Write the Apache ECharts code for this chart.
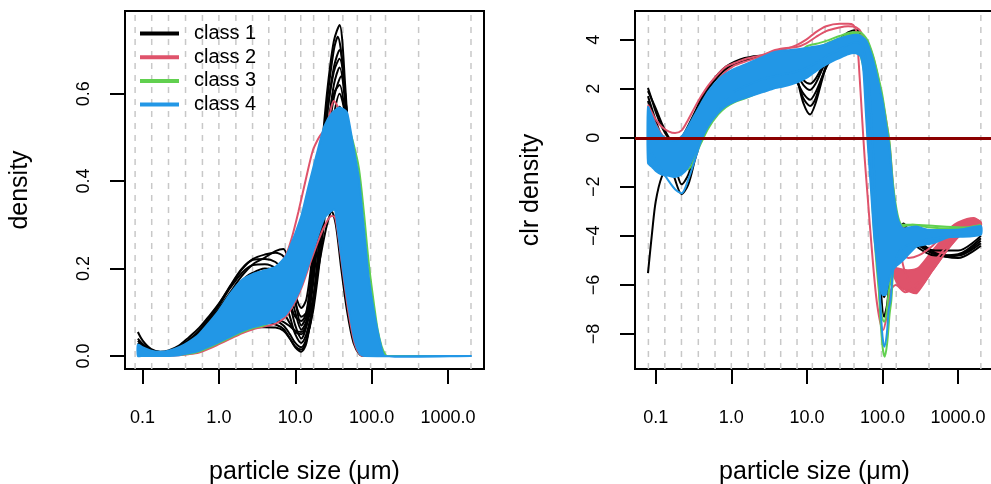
<!DOCTYPE html>
<html>
<head>
<meta charset="utf-8">
<script src="https://cdn.jsdelivr.net/npm/echarts@6/dist/echarts.min.js"></script>
<style>
  html, body { margin: 0; padding: 0; background: #fff; }
  #chart { width: 991px; height: 484px; }
</style>
</head>
<body>
<div id="chart"></div>
<script>
// ---- data (particle size in µm) ----
const classNames = ['class 1', 'class 2', 'class 3', 'class 4']
const classColors = ['#000000', '#DF536B', '#61D04F', '#2297E6']

const xTicks = [0.1, 1, 10, 100, 1000]
const xTickLabels = ['0.1', '1.0', '10.0', '100.0', '1000.0']
const yTicksL = [0, 0.2, 0.4, 0.6]
const yTickLabelsL = ['0.0', '0.2', '0.4', '0.6']
const yTicksR = [-8, -6, -4, -2, 0, 2, 4]
const yTickLabelsR = ['\u22128', '\u22126', '\u22124', '\u22122', '0', '2', '4']

// dashed vertical reference lines
const dashSizes = [0.08, 0.132, 0.219, 0.366, 0.609, 1.0, 1.67, 2.76, 4.5, 7.4, 11.8, 17.4, 27.4, 42, 65, 97, 152, 412, 2000]

// left panel: density
const lBlueUpper = [[0.087,0.026],[0.1,0.02],[0.13,0.012],[0.17,0.01],[0.22,0.012],[0.3,0.02],[0.4,0.032],[0.55,0.05],[0.75,0.077],[1.0,0.104],[1.4,0.142],[2.0,0.174],[2.8,0.188],[4.0,0.196],[5.5,0.204],[7.5,0.228],[9,0.26],[10,0.28],[12,0.32],[15,0.39],[19,0.46],[24,0.525],[30,0.555],[37,0.568],[42,0.565],[48,0.555],[57,0.484],[68,0.408],[79,0.294],[92,0.179],[107,0.103],[131,0.027],[150,0],[2000,0]]
const lBlueLower = [[0.087,0],[0.1,0],[0.13,0],[0.17,0],[0.22,0],[0.3,0.002],[0.4,0.006],[0.55,0.012],[0.75,0.022],[1.0,0.032],[1.4,0.044],[2.0,0.057],[2.8,0.066],[4.0,0.073],[5.5,0.079],[7.5,0.095],[10,0.13],[12,0.16],[15,0.21],[19,0.265],[24,0.315],[30,0.332],[33,0.335],[36,0.29],[42,0.2],[50,0.11],[60,0.035],[70,0.005],[80,0],[2000,0]]

const kL1 = [[0.087,0.055],[0.1,0.036],[0.13,0.016],[0.17,0.01],[0.22,0.013],[0.3,0.024],[0.4,0.042],[0.55,0.064],[0.75,0.092],[1.0,0.12],[1.4,0.158],[2.0,0.198],[2.8,0.222],[4.0,0.232],[5.5,0.236],[7.0,0.228],[8.5,0.19],[10,0.14],[12,0.11],[14,0.13],[17,0.24],[21,0.42],[26,0.6],[32,0.72],[38,0.757],[45,0.62],[55,0.36],[65,0.15],[80,0.03],[100,0],[2000,0]]
const kL2 = [[0.087,0.04],[0.1,0.028],[0.13,0.014],[0.17,0.009],[0.22,0.011],[0.3,0.02],[0.4,0.036],[0.55,0.055],[0.75,0.082],[1.0,0.108],[1.4,0.145],[2.0,0.183],[2.8,0.21],[4.0,0.225],[5.5,0.24],[7.0,0.245],[8.5,0.2],[10,0.13],[12,0.07],[14,0.09],[17,0.2],[21,0.38],[26,0.55],[32,0.66],[38,0.7],[45,0.6],[55,0.38],[65,0.16],[80,0.03],[100,0],[2000,0]]
const kL3 = [[0.087,0.03],[0.1,0.022],[0.13,0.012],[0.17,0.008],[0.22,0.01],[0.3,0.019],[0.4,0.034],[0.55,0.055],[0.75,0.085],[1.0,0.115],[1.4,0.155],[2.0,0.19],[2.8,0.208],[4.0,0.21],[5.5,0.2],[7.0,0.17],[8.5,0.12],[10,0.07],[12,0.04],[14,0.07],[17,0.17],[21,0.33],[26,0.5],[32,0.62],[38,0.66],[45,0.58],[55,0.37],[65,0.15],[80,0.03],[100,0],[2000,0]]
const kL4 = [[0.087,0.02],[0.1,0.015],[0.13,0.008],[0.17,0.004],[0.22,0.003],[0.3,0.006],[0.4,0.012],[0.55,0.02],[0.75,0.032],[1.0,0.045],[1.4,0.055],[2.0,0.063],[2.8,0.066],[4.0,0.066],[5.5,0.065],[7.0,0.058],[8.5,0.04],[10,0.02],[12,0.01],[14,0.03],[17,0.12],[21,0.28],[26,0.44],[32,0.55],[38,0.6],[45,0.55],[55,0.38],[65,0.17],[80,0.03],[100,0],[2000,0]]
const kL5 = [[0.087,0.015],[0.1,0.012],[0.13,0.006],[0.17,0.003],[0.22,0.004],[0.3,0.008],[0.4,0.016],[0.55,0.028],[0.75,0.042],[1.0,0.056],[1.4,0.07],[2.0,0.08],[2.8,0.084],[4.0,0.084],[5.5,0.08],[7.0,0.07],[8.5,0.05],[10,0.03],[12,0.02],[14,0.04],[17,0.1],[21,0.22],[26,0.36],[32,0.46],[38,0.51],[45,0.5],[55,0.38],[65,0.18],[80,0.04],[100,0],[2000,0]]
const kL6 = [[0.087,0.012],[0.1,0.009],[0.13,0.005],[0.17,0.003],[0.22,0.004],[0.3,0.009],[0.4,0.018],[0.55,0.03],[0.75,0.046],[1.0,0.06],[1.4,0.074],[2.0,0.085],[2.8,0.09],[4.0,0.09],[5.5,0.085],[7.0,0.078],[8.5,0.068],[10,0.058],[12,0.055],[14,0.07],[17,0.13],[21,0.22],[26,0.3],[30,0.33],[34,0.3],[40,0.2],[48,0.1],[58,0.03],[70,0.003],[80,0],[2000,0]]
const kL7 = [[0.087,0.025],[0.1,0.02],[0.13,0.011],[0.17,0.007],[0.22,0.009],[0.3,0.017],[0.4,0.03],[0.55,0.05],[0.75,0.075],[1.0,0.1],[1.4,0.135],[2.0,0.17],[2.8,0.19],[4.0,0.2],[5.5,0.195],[7.0,0.18],[8.5,0.15],[10,0.12],[12,0.09],[14,0.1],[17,0.18],[21,0.34],[26,0.5],[32,0.6],[38,0.62],[45,0.55],[55,0.36],[65,0.15],[80,0.03],[100,0],[2000,0]]
const kL8 = [[0.087,0.018],[0.1,0.014],[0.13,0.008],[0.17,0.005],[0.22,0.006],[0.3,0.012],[0.4,0.024],[0.55,0.04],[0.75,0.06],[1.0,0.08],[1.4,0.105],[2.0,0.13],[2.8,0.15],[4.0,0.16],[5.5,0.155],[7.0,0.13],[8.5,0.09],[10,0.05],[12,0.03],[14,0.05],[17,0.12],[21,0.25],[26,0.37],[32,0.43],[38,0.45],[45,0.42],[55,0.3],[65,0.14],[80,0.03],[100,0],[2000,0]]
const kL9 = [[0.087,0.035],[0.1,0.025],[0.13,0.013],[0.17,0.008],[0.22,0.01],[0.3,0.02],[0.4,0.036],[0.55,0.058],[0.75,0.088],[1.0,0.118],[1.4,0.16],[2.0,0.2],[2.8,0.22],[4.0,0.222],[5.5,0.215],[7.0,0.195],[8.5,0.15],[10,0.1],[12,0.06],[14,0.08],[17,0.19],[21,0.37],[26,0.55],[32,0.65],[38,0.68],[45,0.6],[55,0.37],[65,0.16],[80,0.03],[100,0],[2000,0]]
const kL10 = [[0.087,0.01],[0.1,0.008],[0.13,0.005],[0.17,0.003],[0.22,0.004],[0.3,0.009],[0.4,0.018],[0.55,0.03],[0.75,0.045],[1.0,0.058],[1.4,0.07],[2.0,0.078],[2.8,0.08],[4.0,0.078],[5.5,0.072],[7.0,0.062],[8.5,0.04],[10,0.022],[12,0.015],[14,0.035],[17,0.11],[21,0.25],[26,0.42],[32,0.53],[38,0.57],[45,0.52],[55,0.37],[65,0.17],[80,0.035],[100,0],[2000,0]]
const kL11 = [[0.087,0.028],[0.1,0.02],[0.13,0.011],[0.17,0.007],[0.22,0.009],[0.3,0.018],[0.4,0.032],[0.55,0.052],[0.75,0.08],[1.0,0.105],[1.4,0.14],[2.0,0.172],[2.8,0.19],[4.0,0.19],[5.5,0.18],[7.0,0.16],[8.5,0.12],[10,0.09],[12,0.08],[14,0.1],[17,0.22],[21,0.41],[26,0.58],[32,0.7],[36,0.73],[42,0.66],[52,0.42],[62,0.2],[78,0.04],[100,0],[2000,0]]
const kL12 = [[0.087,0.016],[0.1,0.012],[0.13,0.007],[0.17,0.004],[0.22,0.005],[0.3,0.01],[0.4,0.02],[0.55,0.034],[0.75,0.052],[1.0,0.07],[1.4,0.09],[2.0,0.11],[2.8,0.125],[4.0,0.13],[5.5,0.12],[7.0,0.1],[8.5,0.075],[10,0.055],[12,0.05],[14,0.07],[17,0.16],[21,0.32],[26,0.48],[32,0.59],[40,0.64],[47,0.56],[57,0.36],[67,0.16],[82,0.03],[100,0],[2000,0]]

const rL1 = [[0.087,0.015],[0.1,0.011],[0.13,0.006],[0.17,0.005],[0.22,0.007],[0.3,0.014],[0.4,0.026],[0.55,0.044],[0.75,0.068],[1.0,0.093],[1.4,0.128],[2.0,0.16],[2.8,0.18],[4.0,0.19],[5.5,0.2],[7.5,0.23],[9,0.27],[11,0.33],[14,0.41],[17,0.47],[20,0.497],[22,0.508],[25,0.52],[28,0.55],[32,0.583],[36,0.57],[42,0.52],[50,0.42],[60,0.28],[70,0.16],[85,0.06],[100,0.02],[120,0.004],[140,0],[2000,0]]
const rL2 = [[0.087,0.012],[0.1,0.008],[0.13,0.003],[0.17,0.001],[0.22,0.001],[0.3,0.002],[0.4,0.004],[0.55,0.008],[0.75,0.017],[1.0,0.027],[1.4,0.039],[2.0,0.052],[2.8,0.061],[4.0,0.068],[5.5,0.074],[7.5,0.09],[10,0.125],[12,0.155],[15,0.203],[19,0.253],[24,0.296],[30,0.32],[33,0.318],[36,0.283],[42,0.193],[50,0.098],[60,0.028],[70,0.004],[80,0],[2000,0]]
const rL3 = [[0.087,0.01],[0.1,0.007],[0.13,0.004],[0.17,0.003],[0.22,0.004],[0.3,0.01],[0.4,0.02],[0.55,0.035],[0.75,0.055],[1.0,0.075],[1.4,0.1],[2.0,0.125],[2.8,0.14],[4.0,0.148],[5.5,0.155],[7.5,0.175],[10,0.21],[14,0.28],[20,0.37],[28,0.45],[36,0.49],[45,0.5],[57,0.46],[68,0.39],[79,0.28],[92,0.17],[107,0.095],[120,0.045],[135,0.012],[150,0],[2000,0]]

const gL1 = [[0.087,0.012],[0.1,0.009],[0.13,0.005],[0.17,0.004],[0.22,0.005],[0.3,0.011],[0.4,0.022],[0.55,0.038],[0.75,0.06],[1.0,0.083],[1.4,0.112],[2.0,0.14],[2.8,0.155],[4.0,0.165],[5.5,0.175],[7.5,0.2],[10,0.25],[14,0.34],[20,0.44],[26,0.51],[33,0.54],[42,0.535],[50,0.52],[57,0.49],[68,0.43],[79,0.33],[92,0.21],[107,0.12],[120,0.06],[135,0.022],[150,0.004],[160,0],[2000,0]]
const gL2 = [[0.087,0.01],[0.1,0.007],[0.13,0.003],[0.17,0.002],[0.22,0.002],[0.3,0.003],[0.4,0.005],[0.55,0.01],[0.75,0.02],[1.0,0.03],[1.4,0.042],[2.0,0.055],[2.8,0.064],[4.0,0.071],[5.5,0.085],[7.5,0.11],[10,0.15],[14,0.22],[20,0.3],[26,0.36],[30,0.38],[34,0.37],[40,0.32],[50,0.22],[60,0.13],[70,0.06],[85,0.015],[100,0],[2000,0]]
const gL3 = [[0.087,0.015],[0.1,0.011],[0.13,0.006],[0.17,0.004],[0.22,0.005],[0.3,0.01],[0.4,0.02],[0.55,0.033],[0.75,0.05],[1.0,0.07],[1.4,0.1],[2.0,0.13],[2.8,0.15],[4.0,0.16],[5.5,0.17],[7.5,0.19],[10,0.23],[14,0.3],[20,0.39],[26,0.45],[33,0.47],[40,0.45],[50,0.38],[60,0.28],[70,0.19],[85,0.09],[100,0.04],[120,0.01],[140,0],[2000,0]]

// right panel: clr density
const rBlueUpper = [[0.079,1.25],[0.09,0.85],[0.1,0.5],[0.12,0.1],[0.15,-0.08],[0.18,-0.12],[0.22,0.05],[0.27,0.46],[0.33,0.95],[0.4,1.41],[0.5,1.9],[0.67,2.37],[0.85,2.62],[1.11,2.82],[1.5,2.98],[2.38,3.25],[3.56,3.48],[5,3.56],[7,3.6],[9.8,3.66],[13,3.72],[18,3.82],[27,4.05],[35,4.15],[45,4.2],[52,4.15],[61,3.95],[68,3.6],[75,3.18],[82,2.7],[91,2.09],[100,1.5],[112,0.5],[124,-0.4],[137,-2.0],[150,-2.9],[165,-3.45],[186,-3.7],[220,-3.66],[282,-3.62],[400,-3.75],[776,-3.76],[1200,-3.72],[2000,-3.6]]
const rBlueLower = [[0.079,-1.03],[0.09,-1.2],[0.1,-1.35],[0.12,-1.5],[0.15,-1.55],[0.18,-1.6],[0.22,-1.5],[0.27,-1.2],[0.33,-0.65],[0.4,-0.08],[0.5,0.5],[0.67,1.02],[0.85,1.3],[1.11,1.48],[1.5,1.62],[2.38,1.82],[3.56,2.0],[5,2.1],[7.3,2.25],[10,2.45],[13,2.7],[16.3,2.91],[21,3.1],[27,3.25],[35,3.4],[42,3.46],[48,3.4],[52,3.3],[56,2.7],[60,1.1],[63,0],[70,-2.0],[77,-3.9],[84,-5.0],[90,-5.9],[100,-6.4],[110,-6.4],[120,-5.9],[135,-5.4],[150,-5.25],[169,-5.12],[200,-4.9],[282,-4.44],[460,-4.3],[776,-4.05],[1400,-4.03],[2000,-3.95]]
const rRedTailUpper = [[140,-5.3],[170,-5.35],[220,-5.4],[300,-5.3],[460,-4.6],[776,-3.8],[1000,-3.5],[1600,-3.3],[2000,-3.45]]
const rRedTailLower = [[140,-5.6],[170,-6.1],[220,-6.25],[282,-6.34],[460,-5.4],[776,-4.44],[1200,-3.8],[1600,-3.55],[2000,-3.6]]

const kR1 = [[0.079,2.03],[0.09,1.5],[0.1,1.05],[0.12,0.45],[0.15,-0.05],[0.18,-0.3],[0.22,-0.1],[0.27,0.4],[0.33,0.95],[0.4,1.5],[0.5,2.0],[0.67,2.5],[0.85,2.8],[1.11,3.0],[1.5,3.15],[2.38,3.3],[3.56,3.35],[5,3.3],[7.3,2.4],[9,1.4],[11,0.95],[13,1.4],[16,2.4],[19,3.1],[27,3.9],[35,4.2],[45,4.3],[52,4.1],[58,3.5],[65,2.0],[75,-1.0],[90,-5.0],[105,-7.3],[115,-6.8],[130,-5.2],[150,-4.2],[190,-3.5],[250,-4.1],[400,-4.6],[700,-4.85],[1200,-4.7],[2000,-4.2]]
const kR2 = [[0.079,1.7],[0.1,0.7],[0.13,-0.3],[0.18,-1.7],[0.22,-2.3],[0.27,-1.9],[0.33,-0.9],[0.4,0],[0.5,0.9],[0.67,1.7],[0.85,2.2],[1.11,2.5],[1.5,2.7],[2.38,2.9],[3.56,3.05],[5,3.0],[7.3,2.3],[9,1.8],[11,1.55],[13,1.85],[16,2.5],[19,3.0],[27,3.6],[35,3.9],[45,4.0],[55,3.8],[63,2.8],[72,0],[85,-3.5],[100,-5.8],[115,-5.5],[140,-4.2],[190,-3.7],[250,-4.3],[500,-4.8],[1000,-4.75],[2000,-4.1]]
const kR3 = [[0.079,-5.52],[0.09,-3.8],[0.1,-2.6],[0.12,-1.6],[0.15,-1.2],[0.18,-1.4],[0.22,-1.2],[0.27,-0.6],[0.33,0],[0.4,0.7],[0.5,1.3],[0.67,1.9],[0.85,2.3],[1.11,2.6],[1.5,2.8],[2.38,3.0],[3.56,3.2],[5,3.2],[7.3,2.6],[9,2.15],[11,1.95],[13,2.2],[16,2.8],[19,3.3],[27,3.8],[35,4.05],[45,4.1],[55,3.9],[63,3.0],[72,0.5],[85,-3.0],[100,-5.5],[115,-5.2],[140,-4.0],[190,-3.8],[250,-4.2],[500,-4.6],[1000,-4.6],[2000,-4.0]]
const kR4 = [[0.079,1.9],[0.1,1.2],[0.12,0.6],[0.15,0],[0.18,-0.2],[0.22,0],[0.27,0.5],[0.33,1.05],[0.4,1.6],[0.5,2.1],[0.67,2.6],[0.85,2.9],[1.11,3.1],[1.5,3.25],[2.38,3.35],[3.56,3.35],[5,3.3],[7.3,2.8],[9,2.35],[11,2.2],[13,2.4],[16,2.9],[19,3.3],[27,4.0],[35,4.3],[45,4.4],[52,4.2],[58,3.8],[66,2.5],[75,-0.5],[90,-4.5],[105,-6.5],[120,-6.0],[140,-4.5],[180,-3.7],[250,-4.2],[500,-4.75],[1000,-4.8],[2000,-4.3]]
const kR5 = [[0.079,1.5],[0.1,0.5],[0.13,-0.4],[0.18,-1.2],[0.22,-1.9],[0.27,-1.5],[0.33,-0.6],[0.4,0.3],[0.5,1.1],[0.67,1.8],[0.85,2.3],[1.11,2.6],[1.5,2.8],[2.38,3.0],[3.56,3.1],[5,3.05],[7.3,2.4],[9,1.6],[11,1.3],[13,1.6],[16,2.5],[19,3.1],[27,3.8],[35,4.1],[45,4.2],[55,4.0],[63,3.2],[72,0.5],[85,-3.5],[100,-6.0],[115,-5.8],[140,-4.3],[190,-3.6],[250,-4.0],[500,-4.7],[1000,-4.9],[2000,-4.4]]

const rR1 = [[0.079,1.35],[0.09,1.0],[0.1,0.75],[0.12,0.45],[0.15,0.25],[0.18,0.19],[0.22,0.3],[0.27,0.75],[0.33,1.25],[0.4,1.7],[0.5,2.15],[0.67,2.6],[0.85,2.9],[1.11,3.05],[1.5,3.2],[2.38,3.35],[3.56,3.5],[5,3.6],[7.3,3.78],[9.8,4.0],[13,4.3],[18,4.55],[27,4.65],[35,4.65],[41,4.6],[45,4.35],[50,2.4],[54,0.7],[58,-0.8],[64,-2.5],[72,-4.5],[85,-6.8],[102,-7.84],[115,-7.2],[130,-6.2],[150,-6.0],[200,-6.3],[300,-5.9],[500,-5.0],[800,-4.2],[1200,-3.5],[1600,-3.3],[2000,-3.5]]
const rR2 = [[0.079,1.3],[0.1,0.55],[0.13,0],[0.18,-0.3],[0.22,-0.15],[0.27,0.3],[0.33,0.85],[0.4,1.35],[0.5,1.85],[0.67,2.35],[0.85,2.7],[1.11,2.95],[1.5,3.1],[2.38,3.3],[3.56,3.55],[5,3.65],[7.3,3.7],[9.8,3.85],[13,4.1],[18,4.35],[27,4.5],[35,4.55],[45,4.5],[52,4.3],[60,3.8],[68,3.0],[80,1.0],[92,-2.0],[102,-4.5],[112,-5.6],[125,-6.0],[150,-4.6],[220,-4.9],[300,-4.8],[460,-4.4],[776,-3.7],[1000,-3.45],[1600,-3.27],[2000,-3.45]]
const rR3 = [[0.079,0.5],[0.13,-0.6],[0.18,-0.8],[0.27,-0.2],[0.4,0.8],[0.67,1.8],[1.11,2.4],[2.38,2.9],[5,3.2],[10,3.4],[20,3.8],[30,4.0],[45,4.1],[60,4.0],[75,3.3],[91,2.2],[112,0.7],[124,-0.3],[137,-1.9],[150,-3.2],[170,-4.5],[200,-5.5],[282,-6.2],[460,-5.4],[776,-4.44],[1200,-3.8],[1600,-3.55],[2000,-3.6]]

const gR1 = [[0.079,0.8],[0.1,0],[0.13,-0.5],[0.18,-0.65],[0.22,-0.45],[0.27,-0.1],[0.33,0.3],[0.4,0.8],[0.5,1.3],[0.67,1.8],[0.85,2.2],[1.11,2.5],[1.5,2.7],[2.38,2.95],[3.56,3.1],[5,3.2],[7.3,3.3],[10,3.45],[14,3.65],[20,3.9],[27,4.05],[35,4.2],[45,4.25],[55,4.1],[65,3.4],[75,1.5],[85,-3.5],[91,-6.6],[100,-8.5],[107,-8.93],[115,-8.4],[124,-7.2],[131,-6.6],[140,-5.0],[150,-3.9],[170,-3.55],[250,-3.55],[500,-3.6],[1000,-3.65],[2000,-3.7]]
const gR2 = [[0.079,0.3],[0.1,-0.3],[0.13,-0.8],[0.18,-1.0],[0.22,-0.85],[0.27,-0.5],[0.33,-0.05],[0.4,0.5],[0.5,1.1],[0.67,1.65],[0.85,2.0],[1.11,2.3],[1.5,2.5],[2.38,2.75],[3.56,2.95],[5,3.1],[7.3,3.3],[9.8,3.72],[14,3.85],[18,3.95],[27,4.15],[40,4.3],[50,4.3],[61,4.05],[68,3.75],[75,3.35],[82,2.9],[91,2.3],[100,1.7],[112,0.7],[124,-0.2],[137,-1.8],[150,-2.75],[165,-3.35],[186,-3.6],[250,-3.55],[400,-3.65],[800,-3.7],[1400,-3.65],[2000,-3.55]]
const gR3 = [[0.079,-0.4],[0.1,-0.8],[0.13,-1.1],[0.18,-1.2],[0.22,-1.25],[0.27,-1.28],[0.33,-0.78],[0.4,-0.2],[0.5,0.4],[0.67,0.95],[0.85,1.25],[1.11,1.45],[1.5,1.6],[2.38,1.85],[3.56,2.05],[5,2.2],[7.3,2.35],[10,2.55],[16,3.0],[27,3.35],[40,3.5],[50,3.4],[58,2.5],[66,0],[76,-3.5],[88,-6.0],[98,-7.3],[105,-7.5],[112,-7.2],[122,-6.2],[135,-5.3],[150,-4.9],[200,-4.5],[400,-4.2],[1000,-4.0],[2000,-3.8]]

const bR1 = [[0.079,-0.4],[0.1,-0.9],[0.13,-1.5],[0.18,-2.1],[0.22,-2.26],[0.27,-1.7],[0.33,-0.9],[0.4,-0.1],[0.5,0.6],[0.67,1.2],[0.85,1.6],[1.11,1.9],[1.5,2.1],[2.38,2.35],[3.56,2.5],[5,2.6],[7.3,2.7],[10,2.85],[14,3.1],[20,3.4],[27,3.6],[35,3.8],[45,3.9],[55,3.7],[65,2.5],[75,-0.5],[85,-4.0],[93,-6.6],[100,-8.1],[106,-8.52],[114,-8.0],[121,-7.0],[128,-6.6],[140,-5.3],[170,-4.6],[250,-4.3],[500,-4.1],[1000,-4.0],[2000,-3.9]]

// ---- chart ----
const FONT = '"Liberation Sans", Arial, Helvetica, sans-serif'
const [BLACK, RED, GREEN, BLUE] = classColors

// z: 2 = under the blue band, 3 = band, 4 = over the band
function curve(idx, pts, color, name, z) {
  return {
    type: 'line', name, xAxisIndex: idx, yAxisIndex: idx, data: pts, z: z || 2,
    symbol: 'none', smooth: 0.3, silent: true, clip: true,
    lineStyle: { color, width: 2 }, itemStyle: { color },
    emphasis: { disabled: true }
  }
}

function band(idx, upper, lower, color, name, z) {
  const poly = upper.concat(lower.slice().reverse())
  return {
    type: 'custom', name, xAxisIndex: idx, yAxisIndex: idx, silent: true, clip: true, z: z || 3,
    itemStyle: { color },
    data: [poly[0]],
    renderItem: (params, api) => ({
      type: 'polygon',
      shape: { points: poly.map(p => api.coord(p)), smooth: 0.2 },
      style: { fill: color, stroke: color, lineWidth: 2, lineJoin: 'round' }
    })
  }
}

function dashes(idx) {
  return {
    type: 'custom', xAxisIndex: idx, yAxisIndex: idx, silent: true, z: 1,
    data: dashSizes.map(v => [v, 0]),
    renderItem: (params, api) => {
      const cs = params.coordSys
      const x = api.coord([api.value(0), api.value(1)])[0]
      return {
        type: 'line',
        shape: { x1: x, y1: cs.y + cs.height, x2: x, y2: cs.y },
        style: { stroke: '#c8c8c8', lineWidth: 1.5, lineDash: [6, 6] }
      }
    }
  }
}

function xAx(idx, min, max) {
  return {
    gridIndex: idx, type: 'log', logBase: 10, min, max,
    axisLine: { show: false, onZero: false },
    splitLine: { show: false },
    axisTick: { show: true, length: 15, customValues: xTicks, lineStyle: { color: '#000', width: 2 } },
    axisLabel: {
      margin: 40, fontSize: 18, color: '#000', fontFamily: FONT, customValues: xTicks,
      formatter: v => xTickLabels[xTicks.findIndex(t => Math.abs(Math.log10(t) - Math.log10(v)) < 1e-6)]
    },
    name: 'particle size (\u03bcm)', nameLocation: 'middle', nameGap: 91,
    nameTextStyle: { fontSize: 25, color: '#000', fontFamily: FONT }
  }
}

function yAx(idx, min, max, ticks, labels, name, gap) {
  return {
    gridIndex: idx, type: 'value', min, max,
    axisLine: { show: false, onZero: false },
    splitLine: { show: false },
    axisTick: { show: true, length: 15, customValues: ticks, lineStyle: { color: '#000', width: 2 } },
    axisLabel: {
      rotate: 90, margin: 32, fontSize: 18, color: '#000', fontFamily: FONT, customValues: ticks,
      formatter: v => labels[ticks.findIndex(t => Math.abs(t - v) < 1e-9)]
    },
    name, nameLocation: 'middle', nameGap: gap,
    nameTextStyle: { fontSize: 25, color: '#000', fontFamily: FONT }
  }
}

const rightBlueTop = curve(1, bR1, BLUE, 'class 4', 4)
rightBlueTop.markLine = {
  silent: true, symbol: ['none', 'none'], label: { show: false }, z: 6,
  lineStyle: { color: '#8B0000', width: 3, type: 'solid' },
  data: [{ yAxis: 0 }]
}

const gridBase = { top: 11, width: 359, height: 358, show: true, borderColor: '#000', borderWidth: 2, backgroundColor: 'transparent', outerBoundsMode: 'none', containLabel: false }

const chart = echarts.init(document.getElementById('chart'))
chart.setOption({
  animation: false,
  grid: [
    Object.assign({ left: 125 }, gridBase),
    Object.assign({ left: 635 }, gridBase)
  ],
  xAxis: [xAx(0, 0.059, 2960), xAx(1, 0.0532, 2985)],
  yAxis: [
    yAx(0, -0.0297, 0.789, yTicksL, yTickLabelsL, 'density', 92),
    yAx(1, -9.43, 5.17, yTicksR, yTickLabelsR, 'clr density', 91)
  ],
  legend: {
    orient: 'vertical', left: 140, top: 23.5, padding: 0, itemGap: 3.7,
    itemWidth: 49, itemHeight: 4, selectedMode: false,
    icon: 'path://M0,0H39V4H0Z M48.99,0H49V4H48.99Z',
    itemStyle: { borderWidth: 0 },
    textStyle: { fontSize: 20, lineHeight: 20, color: '#000', fontFamily: FONT },
    data: classNames.map((n, i) => ({ name: n, itemStyle: { color: classColors[i] } }))
  },
  series: [
    dashes(0),
    ...[kL1, kL2, kL3, kL4, kL5, kL6, kL7, kL8, kL9, kL10, kL11, kL12].map(d => curve(0, d, BLACK, 'class 1')),
    ...[rL2, rL3, rL1].map(d => curve(0, d, RED, 'class 2')),
    ...[gL2, gL1, gL3].map(d => curve(0, d, GREEN, 'class 3')),
    band(0, lBlueUpper, lBlueLower, BLUE, 'class 4'),

    dashes(1),
    band(1, rRedTailUpper, rRedTailLower, RED, 'class 2', 2),
    ...[kR1, kR2, kR3, kR4, kR5].map(d => curve(1, d, BLACK, 'class 1')),
    ...[rR1, rR3, rR2].map(d => curve(1, d, RED, 'class 2')),
    ...[gR1, gR2, gR3].map(d => curve(1, d, GREEN, 'class 3')),
    band(1, rBlueUpper, rBlueLower, BLUE, 'class 4'),
    rightBlueTop
  ]
})
</script>
</body>
</html>
